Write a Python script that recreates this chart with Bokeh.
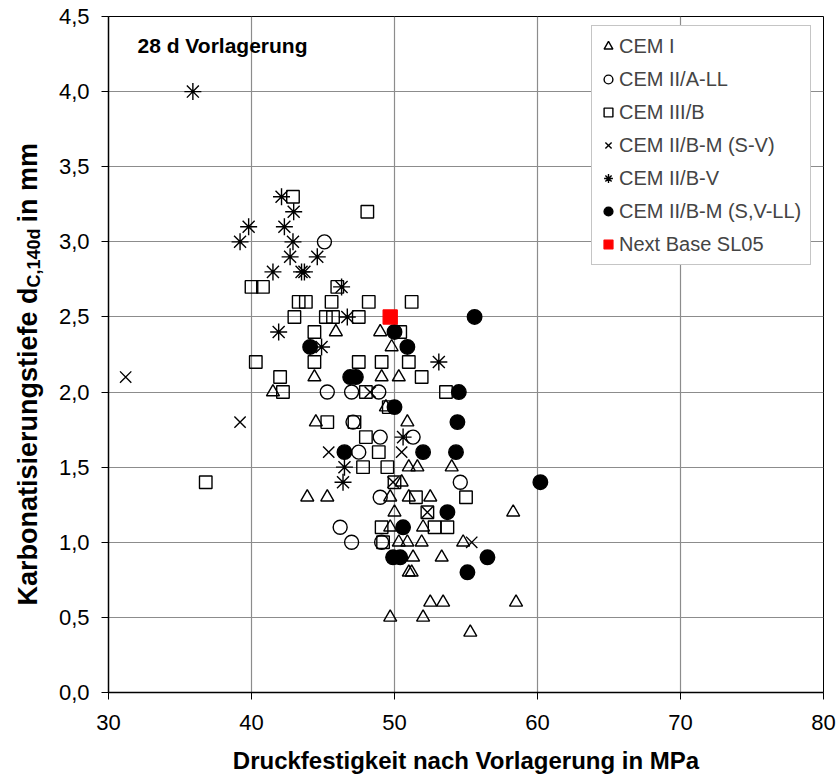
import math
from bokeh.plotting import figure
from bokeh.layouts import row
from bokeh.models import FixedTicker, Label, Legend, LegendItem, ColumnDataSource
from bokeh.embed import file_html
from bokeh.resources import INLINE

FONT = "Liberation Sans"

# ---------------- data ----------------
x_ticks = [30, 40, 50, 60, 70, 80]
x_tick_labels = ["30", "40", "50", "60", "70", "80"]
y_ticks = [0.0, 0.5, 1.0, 1.5, 2.0, 2.5, 3.0, 3.5, 4.0, 4.5]
y_tick_labels = ["0,0", "0,5", "1,0", "1,5", "2,0", "2,5", "3,0", "3,5", "4,0", "4,5"]

cem1_x = [45.9, 49.0, 49.8, 44.4, 49.1, 50.3, 41.5, 49.4, 44.5, 50.9, 51.0, 51.6, 54.0,
          50.5, 43.9, 45.3, 49.7, 51.0, 52.5, 50.0, 58.3, 49.7, 52.0, 50.3, 50.9, 51.9,
          54.8, 51.3, 53.3, 51.0, 51.2, 52.5, 53.4, 58.5, 49.7, 52.0, 55.3]
cem1_y = [2.4, 2.4, 2.3, 2.1, 2.1, 2.1, 2.0, 1.9, 1.8, 1.8, 1.5, 1.5, 1.5,
          1.4, 1.3, 1.3, 1.3, 1.3, 1.3, 1.2, 1.2, 1.1, 1.1, 1.0, 1.0, 1.0,
          1.0, 0.9, 0.9, 0.8, 0.8, 0.6, 0.6, 0.6, 0.5, 0.5, 0.4]

cem2all_x = [45.1, 45.3, 47.0, 48.9, 47.1, 49.0, 51.3, 47.5, 54.6, 49.0, 46.2, 47.0, 49.1]
cem2all_y = [3.0, 2.0, 2.0, 2.0, 1.8, 1.7, 1.7, 1.6, 1.4, 1.3, 1.1, 1.0, 1.0]

cem3b_x = [42.9, 48.1, 40.0, 40.8, 46.0, 43.3, 43.8, 45.6, 48.2, 51.2, 43.0, 45.2, 45.7,
           47.5, 44.4, 50.4, 40.3, 44.4, 47.5, 49.1, 51.0, 42.0, 51.9, 42.2, 48.0, 53.6,
           49.6, 45.3, 47.2, 48.0, 48.9, 47.8, 49.5, 36.8, 50.0, 55.0, 51.5, 52.3, 49.1,
           52.8, 53.7, 49.2]
cem3b_y = [3.3, 3.2, 2.7, 2.7, 2.7, 2.6, 2.6, 2.6, 2.6, 2.6, 2.5, 2.5, 2.5,
           2.5, 2.4, 2.4, 2.2, 2.2, 2.2, 2.2, 2.2, 2.1, 2.1, 2.0, 2.0, 2.0,
           1.9, 1.8, 1.8, 1.7, 1.6, 1.5, 1.5, 1.4, 1.4, 1.3, 1.3, 1.2, 1.1,
           1.1, 1.1, 1.0]

cem2bm_sv_x = [31.2, 39.2, 45.4, 50.5, 55.4, 48.3, 52.3, 49.9]
cem2bm_sv_y = [2.1, 1.8, 1.6, 1.6, 1.0, 2.0, 1.2, 1.4]

cem2bv_x = [35.9, 42.1, 42.95, 39.8, 42.3, 39.2, 42.9, 42.7, 44.6, 41.5, 43.5, 43.7,
            46.3, 46.7, 41.9, 44.9, 53.1, 50.6, 46.5, 46.4]
cem2bv_y = [4.0, 3.3, 3.2, 3.1, 3.1, 3.0, 3.0, 2.9, 2.9, 2.8, 2.8, 2.8,
            2.7, 2.5, 2.4, 2.3, 2.2, 1.7, 1.5, 1.4]

cem2bm_svll_x = [50.0, 50.9, 44.1, 46.9, 47.3, 50.0, 54.5, 54.4, 46.5, 52.0, 54.3, 55.6,
                 60.2, 53.7, 50.6, 49.9, 50.4, 56.5, 55.1]
cem2bm_svll_y = [2.4, 2.3, 2.3, 2.1, 2.1, 1.9, 2.0, 1.8, 1.6, 1.6, 1.6, 2.5,
                 1.4, 1.2, 1.1, 0.9, 0.9, 0.9, 0.8]

nextbase_x = [49.7]
nextbase_y = [2.5]

series = [
    ("CEM I", cem1_x, cem1_y, "triangle", None, "black", 13),
    ("CEM II/A-LL", cem2all_x, cem2all_y, "circle", None, "black", 14),
    ("CEM III/B", cem3b_x, cem3b_y, "square", None, "black", 12.5),
    ("CEM II/B-M (S-V)", cem2bm_sv_x, cem2bm_sv_y, "x", None, "black", 16),
    ("CEM II/B-V", cem2bv_x, cem2bv_y, "asterisk", None, "black", 17),
    ("CEM II/B-M (S,V-LL)", cem2bm_svll_x, cem2bm_svll_y, "circle", "black", "black", 14.5),
    ("Next Base SL05", nextbase_x, nextbase_y, "square", "#ff0000", "#ff0000", 14),
]

LABEL_W = 54
FRAME_W, FRAME_H = 715, 676
TOP, BOTTOM = 16, 88
TOTAL_H = TOP + FRAME_H + BOTTOM

# ---------------- main figure ----------------
p = figure(frame_width=FRAME_W, frame_height=FRAME_H, x_range=(30, 80), y_range=(0, 4.5),
           min_border_left=108 - LABEL_W, min_border_right=15,
           min_border_top=TOP, min_border_bottom=BOTTOM,
           output_backend="svg", toolbar_location=None,
           background_fill_color="white", border_fill_color="white")

p.outline_line_color = "black"
p.outline_line_width = 1

for ax in (p.xaxis, p.yaxis):
    ax.axis_line_color = "black"
    ax.axis_line_width = 1.5
    ax.major_tick_line_color = "black"
    ax.major_tick_line_width = 1
    ax.major_tick_in = 0
    ax.major_tick_out = 7
    ax.minor_tick_line_color = None
    ax.major_label_text_font = FONT
    ax.major_label_text_font_size = "22px"
    ax.major_label_text_color = "black"

p.xaxis.ticker = FixedTicker(ticks=x_ticks)
p.xaxis.major_label_overrides = {t: l for t, l in zip(x_ticks, x_tick_labels)}
p.yaxis.ticker = FixedTicker(ticks=y_ticks)
p.yaxis.major_label_overrides = {t: l for t, l in zip(y_ticks, y_tick_labels)}
p.xaxis.major_label_standoff = 15
p.yaxis.major_label_standoff = 12

p.xaxis.axis_label = "Druckfestigkeit nach Vorlagerung in MPa"
p.xaxis.axis_label_text_font = FONT
p.xaxis.axis_label_text_font_size = "24px"
p.xaxis.axis_label_text_font_style = "bold"
p.xaxis.axis_label_text_color = "black"
p.xaxis.axis_label_standoff = 14

p.xgrid.ticker = FixedTicker(ticks=x_ticks)
p.ygrid.ticker = FixedTicker(ticks=y_ticks)
p.grid.grid_line_color = "#8c8c8c"
p.grid.grid_line_width = 1.2

items = []
for name, xs, ys, marker, fill, line, size in series:
    src = ColumnDataSource(dict(x=xs, y=ys))
    r = p.scatter("x", "y", source=src, marker=marker, size=size,
                  fill_color=fill, line_color=line, line_width=1.4)
    items.append(LegendItem(label=name, renderers=[r]))

legend = Legend(items=items, location=(483, 427),
                label_text_font=FONT, label_text_font_size="20px",
                glyph_width=22, glyph_height=30, spacing=3, padding=5,
                label_standoff=0, label_width=186, margin=0,
                border_line_color="#8c8c8c", border_line_width=1,
                background_fill_color="white", background_fill_alpha=1)
p.add_layout(legend)

p.add_layout(Label(x=29, y=FRAME_H - 29, x_units="screen", y_units="screen",
                   text="28 d Vorlagerung", text_font=FONT, text_font_size="21px",
                   text_font_style="bold", text_baseline="middle", text_color="black"))

# ---------------- y-axis title strip (rotated, with subscript) ----------------
# frame of this strip matches the main frame vertically: 1 data unit = 1 pixel
ylab = figure(width=LABEL_W, height=TOTAL_H, x_range=(0, LABEL_W), y_range=(0, FRAME_H),
              min_border_left=0, min_border_right=0,
              min_border_top=TOP, min_border_bottom=BOTTOM,
              x_axis_location=None, y_axis_location=None,
              output_backend="svg", toolbar_location=None,
              background_fill_color="white", border_fill_color="white",
              outline_line_color=None)
ylab.grid.visible = False

F, FS = 27, 18
w_main = 11.775 * F
w_sub = 3.279 * FS + 6
w_tail = 3.223 * F
total = w_main + w_sub + w_tail
center = (TOP + FRAME_H) - 370      # label centre at picture y = 370
y0 = center - total / 2
xb = 27
ang = math.pi / 2
ylab.add_layout(Label(x=xb, y=y0, angle=ang,
                      text="Karbonatisierungstiefe d", text_font=FONT, text_font_size=f"{F}px",
                      text_font_style="bold", text_baseline="alphabetic", text_color="black"))
ylab.add_layout(Label(x=xb + 6, y=y0 + w_main, angle=ang,
                      text="C,140d", text_font=FONT, text_font_size=f"{FS}px",
                      text_font_style="bold", text_baseline="alphabetic", text_color="black"))
ylab.add_layout(Label(x=xb, y=y0 + w_main + w_sub, angle=ang,
                      text=" in mm", text_font=FONT, text_font_size=f"{F}px",
                      text_font_style="bold", text_baseline="alphabetic", text_color="black"))

layout = row(ylab, p, spacing=0)
open("out.html", "w").write(file_html(layout, INLINE))
